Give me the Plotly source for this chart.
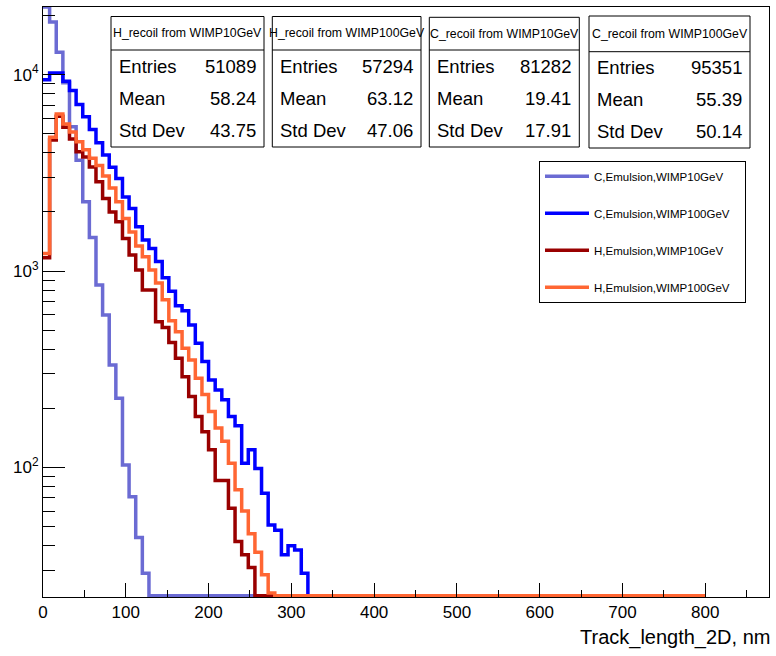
import numpy as np
import plotly.graph_objects as go

# ---------------- data (histograms: 100 bins of width 8 over 0-800) ----------------
BIN_WIDTH = 8
N_BINS = 100

# bin contents, starting at bin 0; bins after the listed ones are empty
c_wimp10 = [25400, 18500, 13000, 9100, 5420, 3660, 2250, 1480, 849, 597, 333, 225,
            103, 71, 44, 29]
c_wimp100 = [9400, 10200, 10200, 9250, 8300, 7050, 6100, 5250, 4500, 3900, 3380, 2960,
             2380, 2080, 1680, 1438, 1304, 1120, 925, 790, 665, 628, 531, 429, 346, 279,
             248, 221, 182, 163, 105, 123, 99, 74, 51, 48, 36, 40, 38, 29]
h_wimp10 = [1170, 4650, 6140, 5400, 4700, 4050, 3810, 3390, 2850, 2340, 2000, 1780,
            1466, 1206, 1012, 800, 800, 552, 516, 433, 360, 290, 230, 182, 152, 123,
            86, 86, 62, 42, 36, 31]
h_wimp100 = [1230, 4800, 6300, 5600, 5100, 4550, 4150, 3750, 3450, 3050, 2650, 2250,
             1850, 1580, 1340, 1182, 1012, 869, 715, 558, 491, 405, 353, 285, 235, 193,
             159, 136, 105, 77, 60, 46, 37, 28.5, 23]

series_names = ["C,Emulsion,WIMP10GeV", "C,Emulsion,WIMP100GeV",
                "H,Emulsion,WIMP10GeV", "H,Emulsion,WIMP100GeV"]
series_values = [c_wimp10, c_wimp100, h_wimp10, h_wimp100]
series_colors = ["#6b6bd3", "#0000ff", "#990000", "#ff6633"]

stat_titles = ["H_recoil from WIMP10GeV", "H_recoil from WIMP100GeV",
               "C_recoil from WIMP10GeV", "C_recoil from WIMP100GeV"]
stat_entries = ["51089", "57294", "81282", "95351"]
stat_means = ["58.24", "63.12", "19.41", "55.39"]
stat_stds = ["43.75", "47.06", "17.91", "50.14"]
stat_labels = ["Entries", "Mean", "Std Dev"]

y_tick_vals = [100, 1000, 10000]
y_tick_text = ["10<sup>2</sup>", "10<sup>3</sup>", "10<sup>4</sup>"]
x_title = "Track_length_2D, nm"

# ---------------- layout constants ----------------
W, H = 776, 656
ML, MR, MT, MB = 43, 7, 7, 59
PW, PH = W - ML - MR, H - MT - MB
Y_LOG_RANGE = [1.341, 4.344]
X_RANGE = [0, 877]

SANS = "Liberation Sans, Arial, Helvetica, sans-serif"


def px(x):
    return (x - ML) / PW


def py(y):
    return (H - MB - y) / PH


edges = np.arange(N_BINS + 1) * BIN_WIDTH
floor_val = 10 ** (Y_LOG_RANGE[0] + 0.006)
ceil_val = 10 ** Y_LOG_RANGE[1]

fig = go.Figure()
for name, vals, col in zip(series_names, series_values, series_colors):
    full = np.zeros(N_BINS)
    full[:len(vals)] = vals
    y = np.where(full > 0, full, floor_val)
    y = np.clip(y, floor_val, ceil_val)
    y = np.append(y, y[-1])
    fig.add_trace(go.Scatter(
        x=edges, y=y, mode="lines", name=name + "\u00a0\u00a0\u00a0", legendgroup=name,
        line=dict(color=col, width=3.5, shape="hv"),
        hoverinfo="skip"))

# ---------------- stat boxes ----------------
boxes = [  # x0, x1, y0, y1, header line (pixels)
    (111, 264, 16.5, 147, 50),
    (272.3, 421, 16.5, 147, 50),
    (429.3, 579.3, 17.3, 147, 50),
    (589, 750, 16, 148, 51.7),
]
shapes = []
annotations = []
for i, (x0, x1, y0, y1, yl) in enumerate(boxes):
    shapes.append(dict(type="rect", xref="paper", yref="paper",
                       x0=px(x0), x1=px(x1), y0=py(y1), y1=py(y0),
                       line=dict(color="black", width=1), fillcolor="white", layer="above"))
    shapes.append(dict(type="line", xref="paper", yref="paper",
                       x0=px(x0), x1=px(x1), y0=py(yl), y1=py(yl),
                       line=dict(color="black", width=1), layer="above"))
    annotations.append(dict(xref="paper", yref="paper", x=px((x0 + x1) / 2), y=py((y0 + yl) / 2),
                            text=stat_titles[i], showarrow=False, xanchor="center", yanchor="middle",
                            font=dict(family=SANS, size=12.3, color="black")))
    vals = [stat_entries[i], stat_means[i], stat_stds[i]]
    row_h = (y1 - yl) / 3
    for r in range(3):
        yc = yl + row_h * (r + 0.5)
        annotations.append(dict(xref="paper", yref="paper", x=px(x0 + 6), y=py(yc),
                                text=stat_labels[r], showarrow=False, xanchor="left", yanchor="middle",
                                font=dict(family=SANS, size=18.5, color="black")))
        annotations.append(dict(xref="paper", yref="paper", x=px(x1 - 6), y=py(yc),
                                text=vals[r], showarrow=False, xanchor="right", yanchor="middle",
                                font=dict(family=SANS, size=18.5, color="black")))

annotations.append(dict(xref="paper", yref="paper", x=px(772), y=py(637),
                        text=x_title, showarrow=False, xanchor="right", yanchor="middle",
                        font=dict(family=SANS, size=20, color="black")))

minor_y = [k * 10 ** e for e in range(1, 5) for k in range(2, 10)]

fig.update_layout(
    width=W, height=H,
    margin=dict(l=ML, r=MR, t=MT, b=MB, pad=0),
    paper_bgcolor="white", plot_bgcolor="white",
    showlegend=True,
    legend=dict(x=px(539), y=py(160.7), xanchor="left", yanchor="top",
                bgcolor="white", bordercolor="black", borderwidth=1,
                font=dict(family=SANS, size=11.5, color="black"),
                itemwidth=44,
                traceorder="grouped", tracegroupgap=18),
    shapes=shapes, annotations=annotations,
    xaxis=dict(range=X_RANGE, showline=True, linecolor="black", linewidth=1, mirror=True,
               ticks="inside", ticklen=14, tickwidth=1, tickcolor="black",
               tick0=0, dtick=100, showgrid=False, zeroline=False, automargin=False,
               minor=dict(dtick=50, tick0=0, ticks="inside", ticklen=7, tickcolor="black", showgrid=False),
               tickfont=dict(family=SANS, size=17, color="black")),
    yaxis=dict(type="log", range=Y_LOG_RANGE, showline=True, linecolor="black", linewidth=1, mirror=True,
               ticks="inside", ticklen=22, tickwidth=1, tickcolor="black",
               tickmode="array", tickvals=y_tick_vals, ticktext=y_tick_text,
               showgrid=False, zeroline=False, automargin=False,
               minor=dict(tickvals=minor_y, ticks="inside", ticklen=12, tickcolor="black", showgrid=False),
               tickfont=dict(family=SANS, size=17, color="black")),
)

fig.write_html("out.html")
